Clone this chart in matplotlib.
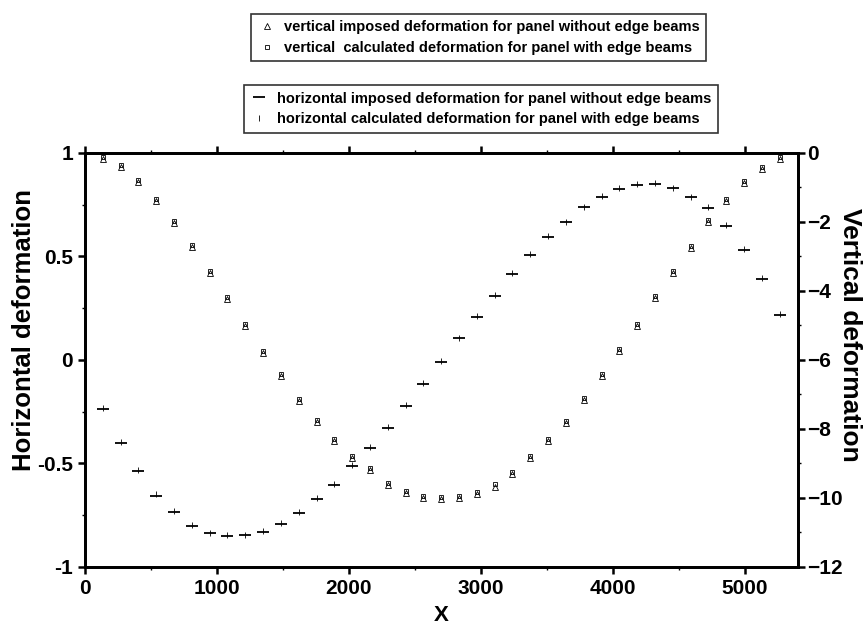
import numpy as np
import matplotlib
matplotlib.use("Agg")
import matplotlib.pyplot as plt
from matplotlib.ticker import MultipleLocator, FixedLocator

# Station coordinates along the panel
x = [135 * k for k in range(1, 40)]

# Horizontal deformation (left axis)
h_imposed = [-0.235, -0.401, -0.538, -0.655, -0.735, -0.800, -0.837, -0.850, -0.848,
             -0.829, -0.793, -0.740, -0.671, -0.603, -0.514, -0.425, -0.328, -0.224,
             -0.115, -0.009, 0.104, 0.207, 0.309, 0.414, 0.508, 0.595, 0.664, 0.737,
             0.788, 0.826, 0.846, 0.850, 0.829, 0.785, 0.734, 0.648, 0.530, 0.390, 0.217]
h_calculated = [-0.230, -0.395, -0.532, -0.650, -0.731, -0.797, -0.835, -0.848, -0.846,
                -0.827, -0.790, -0.736, -0.667, -0.598, -0.509, -0.420, -0.323, -0.219,
                -0.110, -0.005, 0.108, 0.211, 0.313, 0.418, 0.512, 0.598, 0.667, 0.740,
                0.791, 0.829, 0.849, 0.853, 0.832, 0.788, 0.738, 0.652, 0.534, 0.394, 0.221]

# Vertical deformation (right axis)
v_imposed = [-0.17, -0.42, -0.85, -1.40, -2.04, -2.74, -3.47, -4.24, -5.02, -5.79,
             -6.47, -7.18, -7.80, -8.34, -8.85, -9.19, -9.62, -9.86, -9.99, -10.03,
             -9.99, -9.89, -9.67, -9.30, -8.85, -8.34, -7.83, -7.15, -6.47, -5.75,
             -5.02, -4.22, -3.47, -2.76, -2.01, -1.40, -0.88, -0.47, -0.17]
v_calculated = [-0.12, -0.36, -0.80, -1.34, -1.98, -2.68, -3.41, -4.18, -4.96, -5.73,
                -6.41, -7.12, -7.74, -8.28, -8.79, -9.13, -9.56, -9.80, -9.93, -9.97,
                -9.93, -9.83, -9.61, -9.24, -8.79, -8.28, -7.77, -7.09, -6.41, -5.69,
                -4.96, -4.16, -3.41, -2.70, -1.95, -1.34, -0.82, -0.41, -0.11]

plt.rcParams['font.family'] = ['Liberation Sans', 'DejaVu Sans']
plt.rcParams['font.weight'] = 'bold'

fig = plt.figure(figsize=(8.66, 6.37), dpi=100)
ax = fig.add_axes([0.098, 0.110, 0.823, 0.650])
ax2 = ax.twinx()

mk = dict(linestyle='none', color='black', markerfacecolor='none')
hi, = ax.plot(x, h_imposed, marker='_', markersize=9, markeredgewidth=1.3, **mk)
hc, = ax.plot(x, h_calculated, marker='|', markersize=5, markeredgewidth=0.6, **mk)
vi, = ax2.plot(x, v_imposed, marker='^', markersize=4, markeredgewidth=0.6, **mk)
vc, = ax2.plot(x, v_calculated, marker='s', markersize=3.5, markeredgewidth=0.6, **mk)

ax.set_xlim(0, 5400)
ax.set_ylim(-1, 1)
ax2.set_ylim(-12, 0)

ax.xaxis.set_major_locator(FixedLocator([0, 1000, 2000, 3000, 4000, 5000]))
ax.xaxis.set_minor_locator(MultipleLocator(500))
ax.yaxis.set_major_locator(FixedLocator([-1, -0.5, 0, 0.5, 1]))
ax.yaxis.set_minor_locator(MultipleLocator(0.25))
ax.set_yticklabels(['-1', '-0.5', '0', '0.5', '1'])
ax2.yaxis.set_major_locator(MultipleLocator(2))
ax2.yaxis.set_minor_locator(MultipleLocator(1))

for a in (ax, ax2):
    for s in a.spines.values():
        s.set_linewidth(2.0)
    a.tick_params(which='major', direction='out', length=5, width=1.8, labelsize=15)
    a.tick_params(which='minor', direction='out', length=2.5, width=1.0)
ax.tick_params(axis='x', which='both', top=True)
ax.tick_params(axis='x', pad=4)
ax2.tick_params(axis='y', pad=2)

ax.set_xlabel('X', fontsize=16, fontweight='bold', labelpad=5)
ax.set_ylabel('Horizontal deformation', fontsize=18.5, fontweight='bold',
              ha='center', va='center')
ax.yaxis.set_label_coords(-0.085, 0.572)
ax2.set_ylabel('Vertical deformation', fontsize=19, fontweight='bold',
               rotation=270, ha='center', va='center')
ax2.yaxis.set_label_coords(1.074, 0.56)

leg_kw = dict(frameon=True, fancybox=False, fontsize=10.5, handlelength=1.2,
              handletextpad=0.6, borderpad=0.45, labelspacing=0.45,
              bbox_transform=fig.transFigure, loc='upper center')
leg1 = ax2.legend([vi, vc],
                  ['vertical imposed deformation for panel without edge beams',
                   'vertical  calculated deformation for panel with edge beams'],
                  bbox_to_anchor=(0.553, 0.99), **leg_kw)
leg1.get_frame().set_edgecolor('black')
leg1.get_frame().set_linewidth(1.2)
ax2.add_artist(leg1)
leg2 = ax2.legend([hi, hc],
                  ['horizontal imposed deformation for panel without edge beams',
                   'horizontal calculated deformation for panel with edge beams'],
                  bbox_to_anchor=(0.555, 0.878), **leg_kw)
leg2.get_frame().set_edgecolor('black')
leg2.get_frame().set_linewidth(1.2)

fig.savefig('out.png', dpi=100)
